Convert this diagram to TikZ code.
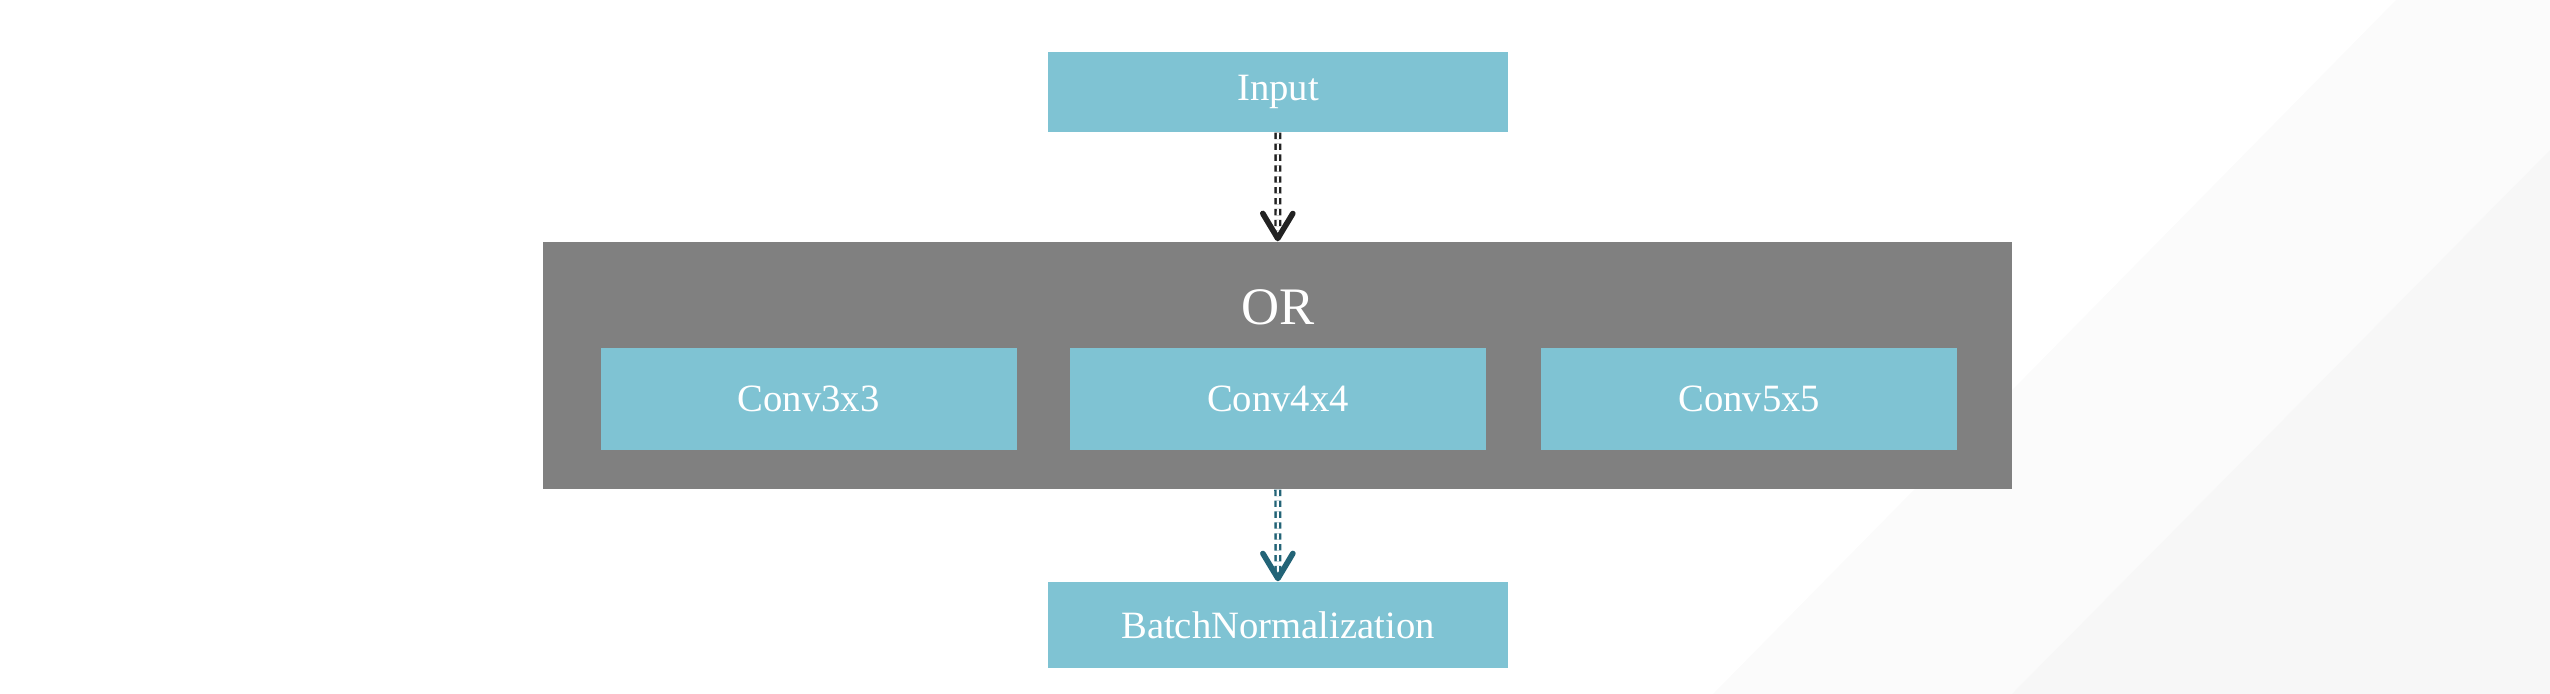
\documentclass[tikz,border=0pt]{standalone}
\usepackage{fontspec}
\setmainfont{Liberation Serif}
\usetikzlibrary{positioning,arrows.meta}
\definecolor{boxblue}{HTML}{7FC3D3}
\definecolor{boxgray}{HTML}{808080}
\definecolor{arrdark}{HTML}{222222}
\definecolor{arrteal}{HTML}{236477}
\definecolor{bandA}{HTML}{FBFBFB}
\definecolor{bandB}{HTML}{F7F7F7}
\tikzset{
layer/.style={fill=boxblue, text=white, inner sep=0pt, font=\fontsize{11}{13}\selectfont},
flow/.style={double, double distance=0.6pt, line width=0.7pt, dash pattern=on 1.8pt off 1.3pt,
  -{Straight Barb[length=2.5mm, width=3mm, line width=1.6pt, round]}}
}

\begin{document}
\begin{tikzpicture}
% canvas 2550 x 694 px, 100 px per cm
\useasboundingbox (0,0) rectangle (25.5,-6.94);
\fill[bandA] (23.96,0) -- (25.5,0) -- (25.5,-6.94) -- (17.13,-6.94) -- cycle;
\fill[bandB] (25.5,-1.50) -- (25.5,-6.94) -- (20.12,-6.94) -- cycle;

\node[layer, minimum width=4.6cm, minimum height=0.8cm] (input) at (12.78,-0.92) {Input};

\node[fill=boxgray, inner sep=0pt, minimum width=14.69cm, minimum height=2.47cm] (grp) at (12.775,-3.655) {};
\node[text=white, font=\fontsize{15}{17}\selectfont] (or) at (12.78,-3.07) {OR};

\node[layer, minimum width=4.16cm, minimum height=1.02cm] (c4) at (12.78,-3.99) {Conv4x4};
\node[layer, minimum width=4.16cm, minimum height=1.02cm, left=0.52cm of c4] (c3) {Conv3x3};
\node[layer, minimum width=4.16cm, minimum height=1.02cm, right=0.54cm of c4] (c5) {Conv5x5};

\node[layer, minimum width=4.6cm, minimum height=0.86cm] (bn) at (12.78,-6.25) {BatchNormalization};

\draw[flow, arrdark] (input) -- (grp);
\draw[flow, arrteal] (grp) -- (bn);
\end{tikzpicture}
\end{document}
